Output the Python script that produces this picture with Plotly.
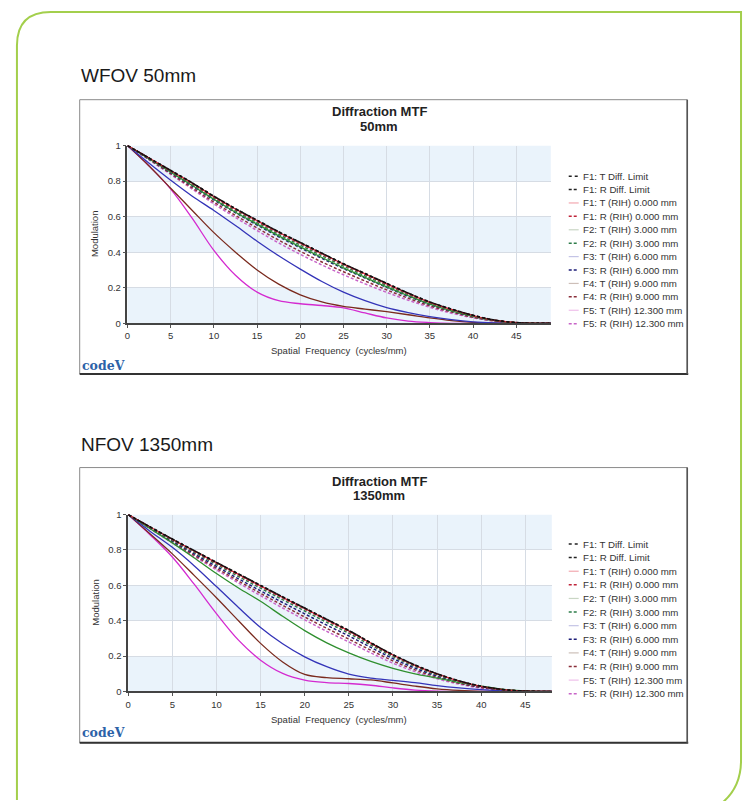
import plotly.graph_objects as go

W, H = 747, 801

# ---------------- data ----------------
freq_wfov = [0, 2.5, 5, 7.5, 10, 12.5, 15, 17.5, 20, 22.5, 25, 27.5, 30, 32.5, 35, 37.5, 40, 42.5, 45, 47.5, 49]
freq_nfov = [0, 2.5, 5, 7.5, 10, 12.5, 15, 17.5, 20, 22.5, 25, 27.5, 30, 32.5, 35, 37.5, 40, 42.5, 45, 47.5, 48]

series_names = [
    "F1: T Diff. Limit", "F1: R Diff. Limit",
    "F1: T (RIH) 0.000 mm", "F1: R (RIH) 0.000 mm",
    "F2: T (RIH) 3.000 mm", "F2: R (RIH) 3.000 mm",
    "F3: T (RIH) 6.000 mm", "F3: R (RIH) 6.000 mm",
    "F4: T (RIH) 9.000 mm", "F4: R (RIH) 9.000 mm",
    "F5: T (RIH) 12.300 mm", "F5: R (RIH) 12.300 mm",
]

# WFOV 50mm
w_f1_t_dl = [1, .93, .86, .79, .715, .645, .58, .515, .455, .395, .335, .28, .225, .17, .12, .08, .045, .018, .004, 0, 0]
w_f1_r_dl = [1, .93, .86, .79, .715, .645, .58, .515, .455, .395, .335, .28, .225, .17, .12, .08, .045, .018, .004, 0, 0]
w_f1_t = [1, .93, .858, .788, .713, .643, .577, .512, .452, .392, .333, .278, .222, .168, .118, .078, .044, .017, .004, 0, 0]
w_f1_r = [1, .929, .857, .786, .71, .64, .574, .509, .449, .389, .33, .275, .22, .166, .117, .077, .043, .017, .004, 0, 0]
w_f2_t = [1, .925, .85, .775, .698, .625, .558, .492, .43, .37, .312, .258, .205, .155, .108, .07, .039, .015, .003, 0, 0]
w_f2_r = [1, .927, .853, .78, .703, .632, .566, .5, .44, .38, .322, .267, .213, .161, .113, .074, .041, .016, .003, 0, 0]
w_f3_t = [1, .90, .805, .715, .635, .55, .462, .38, .305, .235, .175, .127, .088, .06, .037, .02, .008, .002, 0, 0, 0]
w_f3_r = [1, .925, .848, .772, .694, .622, .553, .487, .425, .365, .308, .254, .202, .152, .106, .069, .038, .015, .003, 0, 0]
w_f4_t = [1, .885, .76, .635, .51, .40, .30, .22, .16, .12, .095, .08, .065, .048, .03, .015, .005, .001, 0, 0, 0]
w_f4_r = [1, .922, .842, .762, .682, .607, .536, .468, .405, .345, .29, .238, .188, .141, .098, .063, .034, .013, .002, 0, 0]
w_f5_t = [1, .885, .755, .59, .41, .27, .175, .127, .11, .10, .087, .058, .03, .012, .004, 0, 0, 0, 0, 0, 0]
w_f5_r = [1, .92, .838, .755, .672, .595, .522, .452, .388, .328, .273, .222, .174, .13, .09, .057, .031, .012, .002, 0, 0]

# NFOV 1350mm
n_f1_t_dl = [1, .93, .862, .796, .73, .665, .6, .535, .472, .408, .345, .275, .208, .15, .1, .06, .03, .011, .002, 0, 0]
n_f1_r_dl = [1, .93, .862, .796, .73, .665, .6, .535, .472, .408, .345, .275, .208, .15, .1, .06, .03, .011, .002, 0, 0]
n_f1_t = [1, .93, .86, .794, .728, .662, .597, .532, .469, .405, .342, .273, .206, .148, .099, .059, .029, .01, .002, 0, 0]
n_f1_r = [1, .929, .859, .792, .725, .659, .594, .529, .466, .402, .339, .27, .204, .146, .097, .058, .028, .01, .002, 0, 0]
n_f2_t = [1, .92, .84, .755, .667, .585, .51, .425, .344, .275, .218, .17, .131, .10, .076, .05, .03, .012, .003, 0, 0]
n_f2_r = [1, .927, .855, .786, .718, .65, .584, .519, .455, .391, .329, .262, .197, .141, .093, .055, .027, .009, .002, 0, 0]
n_f3_t = [1, .905, .815, .71, .593, .475, .362, .27, .196, .14, .098, .075, .063, .05, .033, .02, .01, .003, 0, 0, 0]
n_f3_r = [1, .925, .85, .778, .707, .637, .569, .503, .439, .375, .314, .249, .186, .132, .087, .051, .025, .009, .001, 0, 0]
n_f4_t = [1, .89, .778, .655, .53, .40, .272, .167, .096, .078, .072, .065, .048, .03, .015, .006, .001, 0, 0, 0, 0]
n_f4_r = [1, .922, .845, .77, .697, .625, .555, .487, .421, .357, .296, .233, .173, .122, .08, .046, .022, .008, .001, 0, 0]
n_f5_t = [1, .885, .76, .605, .44, .29, .177, .102, .064, .05, .045, .035, .02, .008, .002, 0, 0, 0, 0, 0, 0]
n_f5_r = [1, .92, .84, .763, .688, .614, .542, .472, .405, .34, .28, .218, .16, .112, .072, .041, .019, .007, .001, 0, 0]

wfov_values = [w_f1_t_dl, w_f1_r_dl, w_f1_t, w_f1_r, w_f2_t, w_f2_r, w_f3_t, w_f3_r, w_f4_t, w_f4_r, w_f5_t, w_f5_r]
nfov_values = [n_f1_t_dl, n_f1_r_dl, n_f1_t, n_f1_r, n_f2_t, n_f2_r, n_f3_t, n_f3_r, n_f4_t, n_f4_r, n_f5_t, n_f5_r]

x_ticks = [0, 5, 10, 15, 20, 25, 30, 35, 40, 45]
y_ticks = [0, 0.2, 0.4, 0.6, 0.8, 1]

# ---------------- styles ----------------
colors = ["#111111", "#111111", "#d8283a", "#c0243a", "#2f8f2f", "#2e7d4a",
          "#3434b8", "#1c1c78", "#7a2a1e", "#8a2f3a", "#d42ad0", "#c864c8"]
dashes = ["dot", "3px,2px", "solid", "3px,2px", "solid", "3px,2px",
          "solid", "3px,2px", "solid", "3px,2px", "solid", "3px,2px"]
legend_colors = ["#222222", "#222222", "#f2a8b0", "#c0243a", "#c9d6c4", "#2e7d4a",
                 "#c4c4e6", "#1c1c78", "#cdbfb8", "#8a2f3a", "#efc0ea", "#c864c8"]
FONT = "Arial, Liberation Sans, sans-serif"


def px(x):
    return x / W


def py(y):
    return 1 - y / H


fig = go.Figure()

# draw order: F5 ... F1, then diff limits on top
order = [10, 11, 8, 9, 6, 7, 4, 5, 2, 3, 1, 0]
for ax_x, ax_y, xs, vals in [("x", "y", freq_wfov, wfov_values), ("x2", "y2", freq_nfov, nfov_values)]:
    for i in order:
        fig.add_trace(go.Scatter(
            x=xs, y=vals[i], mode="lines", name=series_names[i],
            line=dict(color=colors[i], width=1.3 if dashes[i] == "solid" else 1.5,
                      dash=dashes[i], shape="spline", smoothing=1.0),
            xaxis=ax_x, yaxis=ax_y, showlegend=False, hoverinfo="skip"))

panels = [
    dict(box=(77, 95, 687, 373), area=(125, 141.5, 550, 321.7), sec="WFOV 50mm", sec_y=70,
         t1y=107, t2y=122, sub="50mm", leg_y0=172.5, leg_dy=13.6, xa="xaxis", ya="yaxis",
         xr="x", yr="y", xmax=49, logo_y=364),
    dict(box=(77, 468, 687, 747), area=(125.7, 515.7, 551, 695), sec="NFOV 1350mm", sec_y=445,
         t1y=482, t2y=496, sub="1350mm", leg_y0=545.5, leg_dy=13.8, xa="xaxis2", ya="yaxis2",
         xr="x2", yr="y2", xmax=48, logo_y=737),
]

shapes = []
annotations = []


def P(x, y):
    return f"{px(x):.5f},{py(y):.5f}"


# green page border
border_path = (f"M{P(14, 805)} L{P(14, 40)} Q{P(14, 6)} {P(48, 6)} L{P(741, 6)} "
               f"L{P(741, 765)} Q{P(741, 792)} {P(722, 808)}")
shapes.append(dict(type="path", path=border_path, xref="paper", yref="paper",
                   line=dict(color="#a3cf4c", width=2), layer="above"))

for p in panels:
    bx0, by0, bx1, by1 = p["box"]
    ax0, ay0, ax1, ay1 = p["area"]
    # box
    shapes.append(dict(type="rect", xref="paper", yref="paper",
                       x0=px(bx0), y0=py(by0), x1=px(bx1), y1=py(by1),
                       line=dict(color="#8a8a8a", width=1), layer="below"))
    shapes.append(dict(type="line", xref="paper", yref="paper",
                       x0=px(bx0), y0=py(by1), x1=px(bx1 + 1), y1=py(by1),
                       line=dict(color="#333333", width=2), layer="above"))
    shapes.append(dict(type="line", xref="paper", yref="paper",
                       x0=px(bx1), y0=py(by0), x1=px(bx1), y1=py(by1),
                       line=dict(color="#555555", width=1.6), layer="above"))
    # bands
    for b0 in [0, 0.4, 0.8]:
        shapes.append(dict(type="rect", xref=p["xr"] + " domain", yref=p["yr"],
                           x0=0, x1=1, y0=b0, y1=b0 + 0.2,
                           fillcolor="#eaf3fb", line=dict(width=0), layer="below"))
    # axes
    fig.update_layout(**{
        p["xa"]: dict(domain=[px(ax0), px(ax1)], range=[0, p["xmax"]], anchor=p["yr"],
                      tickvals=x_ticks, ticks="outside", ticklen=3, tickcolor="#555",
                      showline=True, linecolor="#444", linewidth=1.5,
                      showgrid=True, gridcolor="#d6dce4", gridwidth=1, zeroline=False,
                      tickfont=dict(family=FONT, size=9.5, color="#333")),
        p["ya"]: dict(domain=[py(ay1), py(ay0)], range=[0, 1], anchor=p["xr"],
                      tickvals=y_ticks, ticks="outside", ticklen=3, tickcolor="#555",
                      showline=True, linecolor="#444", linewidth=1.5,
                      showgrid=True, gridcolor="#d6dce4", gridwidth=1, zeroline=False,
                      tickfont=dict(family=FONT, size=9.5, color="#333")),
    })
    # section title
    annotations.append(dict(text=p["sec"], x=px(76), y=py(p["sec_y"]), xref="paper", yref="paper",
                            xanchor="left", yanchor="middle", showarrow=False,
                            font=dict(family=FONT, size=19, color="#1a1a1a")))
    # chart titles
    annotations.append(dict(text="<b>Diffraction MTF</b>", x=px(378), y=py(p["t1y"]), xref="paper",
                            yref="paper", xanchor="center", yanchor="middle", showarrow=False,
                            font=dict(family=FONT, size=13, color="#222")))
    annotations.append(dict(text=f"<b>{p['sub']}</b>", x=px(378), y=py(p["t2y"]), xref="paper",
                            yref="paper", xanchor="center", yanchor="middle", showarrow=False,
                            font=dict(family=FONT, size=13, color="#222")))
    # axis titles
    annotations.append(dict(text="Modulation", x=px(92), y=py((ay0 + ay1) / 2), xref="paper",
                            yref="paper", xanchor="center", yanchor="middle", showarrow=False,
                            textangle=-90, font=dict(family=FONT, size=9.5, color="#333")))
    annotations.append(dict(text="Spatial  Frequency  (cycles/mm)", x=px(337), y=py(ay1 + 28),
                            xref="paper", yref="paper", xanchor="center", yanchor="middle",
                            showarrow=False, font=dict(family=FONT, size=9.5, color="#333")))
    # logo
    annotations.append(dict(text="<b>code</b><b>V</b>", x=px(77), y=py(p["logo_y"]), xref="paper",
                            yref="paper", xanchor="left", yanchor="middle", showarrow=False,
                            font=dict(family="DejaVu Serif", size=12.5, color="#2d62a8")))
    # legend
    for i, name in enumerate(series_names):
        yc = p["leg_y0"] + i * p["leg_dy"]
        d = dashes[i]
        shapes.append(dict(type="line", xref="paper", yref="paper",
                           x0=px(568), x1=px(578), y0=py(yc), y1=py(yc),
                           line=dict(color=legend_colors[i], width=1.5 if d != "solid" else 1.2,
                                     dash=d), layer="above"))
        annotations.append(dict(text=name, x=px(580), y=py(yc), xref="paper", yref="paper",
                                xanchor="left", yanchor="middle", showarrow=False,
                                font=dict(family=FONT, size=9.7, color="#333")))

fig.update_layout(
    width=W, height=H, autosize=False,
    margin=dict(l=0, r=0, t=0, b=0),
    paper_bgcolor="white", plot_bgcolor="white",
    showlegend=False,
    shapes=shapes, annotations=annotations,
)

fig.write_html("out.html")
